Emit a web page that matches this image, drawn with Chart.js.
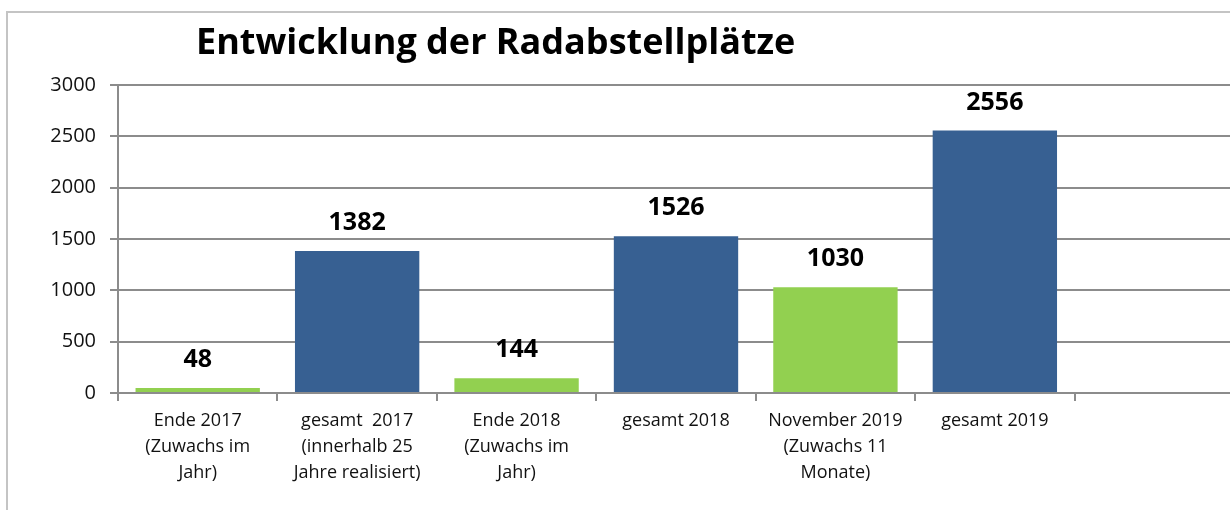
<!DOCTYPE html>
<html>
<head>
<meta charset="utf-8">
<script src="https://cdn.jsdelivr.net/npm/chart.js@4"></script>
<style>
html, body { margin: 0; padding: 0; overflow: hidden; background: #fff; width: 1230px; height: 510px; }
#frame { position: absolute; left: 6px; top: 11px; width: 1400px; height: 700px; border: 2px solid #c4c4c4; }
#wrap { position: absolute; left: 0; top: 0; width: 1236px; height: 510px; }
</style>
</head>
<body>
<div id="frame"></div>
<div id="wrap"><canvas id="barChart"></canvas></div>
<script>
var chartTitle = 'Entwicklung der Radabstellplätze';
var kategorien = [
    ['Ende 2017', '(Zuwachs im', 'Jahr)'],
    ['gesamt  2017', '(innerhalb 25', 'Jahre realisiert)'],
    ['Ende 2018', '(Zuwachs im', 'Jahr)'],
    ['gesamt 2018'],
    ['November 2019', '(Zuwachs 11', 'Monate)'],
    ['gesamt 2019'],
    ''
];
var werte = [48, 1382, 144, 1526, 1030, 2556, null];
var art = ['zuwachs', 'gesamt', 'zuwachs', 'gesamt', 'zuwachs', 'gesamt', ''];
var yTicks = [0, 500, 1000, 1500, 2000, 2500, 3000];

var farben = { zuwachs: '#92d050', gesamt: '#376092' };
var schrift = "'Open Sans', sans-serif";

var titlePlugin = {
    id: 'titlePlugin',
    afterDraw: function (chart) {
        var ctx = chart.ctx;
        ctx.save();
        ctx.font = 'bold 36px ' + schrift;
        ctx.fillStyle = '#000';
        ctx.textAlign = 'left';
        ctx.textBaseline = 'middle';
        ctx.fillText(chartTitle, 196, 44);
        ctx.restore();
    }
};

var valuePlugin = {
    id: 'valuePlugin',
    afterDatasetsDraw: function (chart) {
        var ctx = chart.ctx;
        var meta = chart.getDatasetMeta(0);
        ctx.save();
        ctx.font = 'bold 25px ' + schrift;
        ctx.fillStyle = '#000';
        ctx.textAlign = 'center';
        ctx.textBaseline = 'middle';
        meta.data.forEach(function (bar, i) {
            if (werte[i] == null) return;
            ctx.fillText(String(werte[i]), bar.x, bar.y - 28);
        });
        ctx.restore();
    }
};

var bar_chart = document.getElementById('barChart');
var barChart = new Chart(bar_chart, {
    type: 'bar',
    data: {
        labels: kategorien,
        datasets: [{
            data: werte,
            backgroundColor: art.map(function (a) { return farben[a] || 'transparent'; }),
            borderWidth: 0,
            categoryPercentage: 0.78,
            barPercentage: 1
        }]
    },
    options: {
        responsive: true,
        maintainAspectRatio: false,
        animation: false,
        layout: { padding: { top: 85, left: 0, right: 2, bottom: 0 } },
        plugins: {
            legend: { display: false },
            title: { display: false },
            tooltip: { enabled: false }
        },
        scales: {
            x: {
                grid: {
                    offset: true,
                    drawOnChartArea: false,
                    drawTicks: true,
                    tickLength: 8,
                    color: '#8c8c8c',
                    lineWidth: 2
                },
                border: { color: '#8c8c8c', width: 2 },
                ticks: {
                    color: '#111',
                    font: { family: schrift, size: 18, lineHeight: 1.45 },
                    padding: 7,
                    maxRotation: 0,
                    autoSkip: false
                },
                afterFit: function (scale) { scale.height = 117; }
            },
            y: {
                min: 0,
                max: 3000,
                afterBuildTicks: function (scale) {
                    scale.ticks = yTicks.map(function (v) { return { value: v }; });
                },
                grid: {
                    color: '#8c8c8c',
                    lineWidth: 2,
                    tickLength: 8
                },
                border: { color: '#8c8c8c', width: 2 },
                ticks: {
                    color: '#111',
                    font: { family: schrift, size: 20 },
                    padding: 14,
                    callback: function (v) { return String(v); }
                },
                afterFit: function (scale) { scale.width = 118; }
            }
        }
    },
    plugins: [titlePlugin, valuePlugin]
});
</script>
</body>
</html>
